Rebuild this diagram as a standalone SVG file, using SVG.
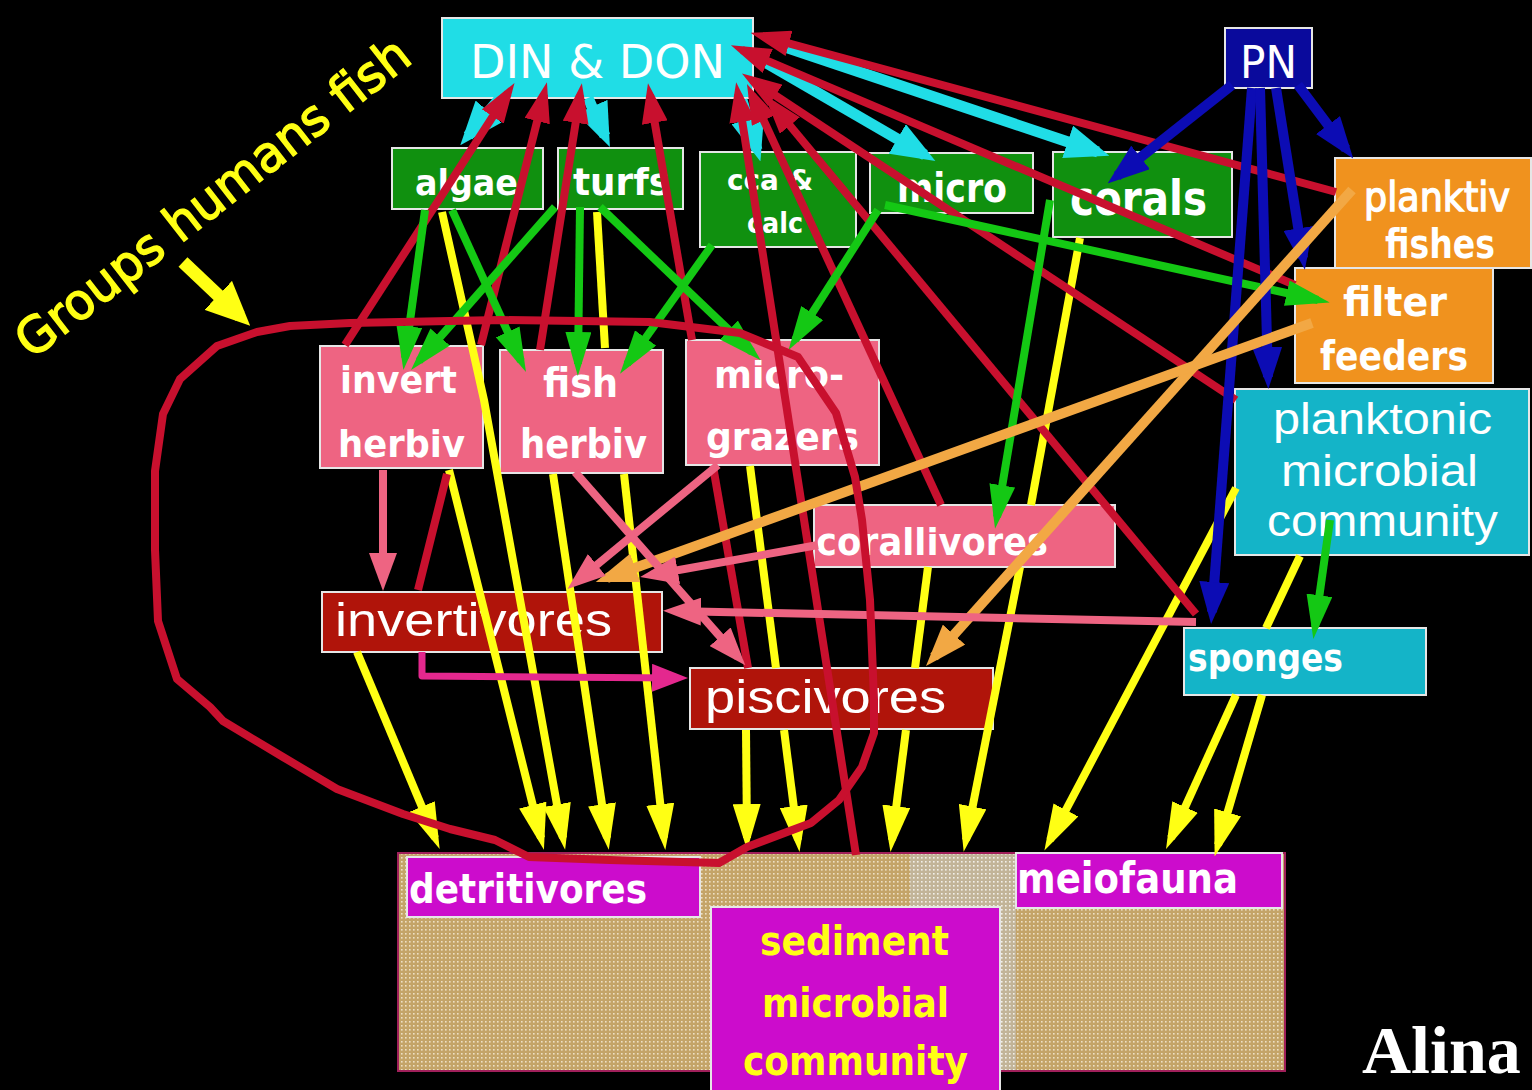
<svg xmlns="http://www.w3.org/2000/svg" width="1532" height="1090" viewBox="0 0 1532 1090">
<defs>
<style>
.box{stroke:#e6e6e6;stroke-width:2}
.t{font-family:"DejaVu Sans",sans-serif;font-weight:bold;fill:#ffffff}
.tn{font-family:"DejaVu Sans",sans-serif;fill:#ffffff}
.tb{font-family:"DejaVu Sans",sans-serif;fill:#ffffff;stroke:#ffffff;stroke-width:1.4}
.a{font-family:"Liberation Sans",Arial,sans-serif;fill:#ffffff}
.ln{fill:none;stroke-linejoin:round}
.y{stroke:#ffff14;stroke-width:8;marker-end:url(#hy)}
.y0{stroke:#ffff14;stroke-width:8}
.r{stroke:#c8102e;stroke-width:8;marker-end:url(#hr)}
.r0{stroke:#c8102e;stroke-width:8}
.g{stroke:#14c814;stroke-width:8;marker-end:url(#hg)}
.c{stroke:#20dde6;stroke-width:11;marker-end:url(#hc)}
.b{stroke:#0c0cb4;stroke-width:10;marker-end:url(#hb)}
.o{stroke:#f2a844;stroke-width:10;marker-end:url(#ho)}
.p{stroke:#ee6482;stroke-width:8;marker-end:url(#hp)}
.m{stroke:#e4288e;stroke-width:7;marker-end:url(#hm)}
</style>
<pattern id="dots" width="4" height="4" patternUnits="userSpaceOnUse"><rect width="4" height="4" fill="#c4a468"/><rect x="1" y="1" width="1.6" height="1.6" fill="#eee0c4"/></pattern>
<pattern id="dots2" width="4" height="4" patternUnits="userSpaceOnUse"><rect width="4" height="4" fill="#c2b498"/><rect x="1" y="1" width="1.6" height="1.6" fill="#f2f0ea"/></pattern>
<marker id="hy" viewBox="0 0 46 28" refX="34" refY="14" markerWidth="46" markerHeight="28" orient="auto" markerUnits="userSpaceOnUse"><path d="M0,0 L46,14 L0,28 z" fill="#ffff14"/></marker>
<marker id="hr" viewBox="0 0 40 26" refX="28" refY="13" markerWidth="40" markerHeight="26" orient="auto" markerUnits="userSpaceOnUse"><path d="M0,0 L40,13 L0,26 z" fill="#c8102e"/></marker>
<marker id="hg" viewBox="0 0 44 26" refX="32" refY="13" markerWidth="44" markerHeight="26" orient="auto" markerUnits="userSpaceOnUse"><path d="M0,0 L44,13 L0,26 z" fill="#14c814"/></marker>
<marker id="hc" viewBox="0 0 44 34" refX="32" refY="17" markerWidth="44" markerHeight="34" orient="auto" markerUnits="userSpaceOnUse"><path d="M0,0 L44,17 L0,34 z" fill="#20dde6"/></marker>
<marker id="hb" viewBox="0 0 42 30" refX="30" refY="15" markerWidth="42" markerHeight="30" orient="auto" markerUnits="userSpaceOnUse"><path d="M0,0 L42,15 L0,30 z" fill="#0c0cb4"/></marker>
<marker id="ho" viewBox="0 0 42 30" refX="30" refY="15" markerWidth="42" markerHeight="30" orient="auto" markerUnits="userSpaceOnUse"><path d="M0,0 L42,15 L0,30 z" fill="#f2a844"/></marker>
<marker id="hp" viewBox="0 0 38 28" refX="27" refY="14" markerWidth="38" markerHeight="28" orient="auto" markerUnits="userSpaceOnUse"><path d="M0,0 L38,14 L0,28 z" fill="#ee6482"/></marker>
<marker id="hm" viewBox="0 0 36 28" refX="26" refY="14" markerWidth="36" markerHeight="28" orient="auto" markerUnits="userSpaceOnUse"><path d="M0,0 L36,14 L0,28 z" fill="#e4288e"/></marker>
<marker id="hya" viewBox="0 0 44 40" refX="30" refY="20" markerWidth="44" markerHeight="40" orient="auto" markerUnits="userSpaceOnUse"><path d="M0,0 L44,20 L0,40 z" fill="#ffff14"/></marker>
</defs>
<rect width="1532" height="1090" fill="#000000"/>

<g id="sediment">
<rect x="398" y="853" width="887" height="218" fill="url(#dots)" stroke="#a0205a" stroke-width="2"/>
<rect x="910" y="854" width="106" height="216" fill="url(#dots2)"/>
</g>

<g id="nodes">
<g id="din-don"><rect class="box" x="442" y="18" width="311" height="80" fill="#20dde6"/><text class="tn" x="470" y="78" font-size="46" textLength="255" lengthAdjust="spacingAndGlyphs">DIN &amp; DON</text></g>
<g id="pn"><rect class="box" x="1225" y="28" width="87" height="60" fill="#0a0a9c"/><text class="tn" x="1240" y="78" font-size="44" textLength="57" lengthAdjust="spacingAndGlyphs">PN</text></g>
<g id="algae"><rect class="box" x="392" y="148" width="151" height="61" fill="#10900f"/><text class="t" x="415" y="195" font-size="36" textLength="103" lengthAdjust="spacingAndGlyphs">algae</text></g>
<g id="turfs"><rect class="box" x="558" y="148" width="125" height="61" fill="#10900f"/><text class="t" x="573" y="195" font-size="38" textLength="97" lengthAdjust="spacingAndGlyphs">turfs</text></g>
<g id="cca"><rect class="box" x="700" y="152" width="156" height="95" fill="#10900f"/><text class="t" x="727" y="190" font-size="28" textLength="86" lengthAdjust="spacingAndGlyphs">cca &amp;</text><text class="t" x="747" y="233" font-size="28" textLength="56" lengthAdjust="spacingAndGlyphs">calc</text></g>
<g id="micro"><rect class="box" x="870" y="153" width="163" height="60" fill="#10900f"/><text class="t" x="897" y="202" font-size="40" textLength="110" lengthAdjust="spacingAndGlyphs">micro</text></g>
<g id="corals"><rect class="box" x="1053" y="152" width="179" height="85" fill="#10900f"/><text class="t" x="1070" y="215" font-size="48" textLength="137" lengthAdjust="spacingAndGlyphs">corals</text></g>
<g id="planktiv-fishes"><rect class="box" x="1335" y="158" width="196" height="110" fill="#f0921e"/><text class="tb" x="1364" y="211" font-size="40" textLength="146" lengthAdjust="spacingAndGlyphs">planktiv</text><text class="t" x="1385" y="258" font-size="40" textLength="110" lengthAdjust="spacingAndGlyphs">fishes</text></g>
<g id="filter-feeders"><rect class="box" x="1295" y="268" width="198" height="115" fill="#f0921e"/><text class="t" x="1343" y="316" font-size="40" textLength="104" lengthAdjust="spacingAndGlyphs">filter</text><text class="t" x="1320" y="370" font-size="40" textLength="148" lengthAdjust="spacingAndGlyphs">feeders</text></g>
<g id="planktonic"><rect class="box" x="1235" y="389" width="294" height="166" fill="#14b4c8"/><text class="a" x="1273" y="434" font-size="44" textLength="219" lengthAdjust="spacingAndGlyphs">planktonic</text><text class="a" x="1281" y="486" font-size="44" textLength="197" lengthAdjust="spacingAndGlyphs">microbial</text><text class="a" x="1267" y="536" font-size="44" textLength="231" lengthAdjust="spacingAndGlyphs">community</text></g>
<g id="sponges"><rect class="box" x="1184" y="628" width="242" height="67" fill="#14b4c8"/><text class="t" x="1188" y="671" font-size="38" textLength="155" lengthAdjust="spacingAndGlyphs">sponges</text></g>
<g id="invert-herbiv"><rect class="box" x="320" y="346" width="163" height="122" fill="#ee6482"/><text class="t" x="340" y="393" font-size="38" textLength="117" lengthAdjust="spacingAndGlyphs">invert</text><text class="t" x="338" y="457" font-size="38" textLength="127" lengthAdjust="spacingAndGlyphs">herbiv</text></g>
<g id="fish-herbiv"><rect class="box" x="500" y="350" width="163" height="123" fill="#ee6482"/><text class="t" x="543" y="397" font-size="40" textLength="75" lengthAdjust="spacingAndGlyphs">fish</text><text class="t" x="520" y="458" font-size="40" textLength="127" lengthAdjust="spacingAndGlyphs">herbiv</text></g>
<g id="micro-grazers"><rect class="box" x="686" y="340" width="193" height="125" fill="#ee6482"/><text class="t" x="714" y="388" font-size="38" textLength="130" lengthAdjust="spacingAndGlyphs">micro-</text><text class="t" x="706" y="450" font-size="38" textLength="153" lengthAdjust="spacingAndGlyphs">grazers</text></g>
<g id="corallivores"><rect class="box" x="814" y="505" width="301" height="62" fill="#ee6482"/><text class="t" x="816" y="555" font-size="38" textLength="232" lengthAdjust="spacingAndGlyphs">corallivores</text></g>
<g id="invertivores"><rect class="box" x="322" y="592" width="340" height="60" fill="#b0140a"/><text class="a" x="335" y="636" font-size="46" textLength="277" lengthAdjust="spacingAndGlyphs">invertivores</text></g>
<g id="piscivores"><rect class="box" x="690" y="668" width="303" height="61" fill="#b0140a"/><text class="a" x="705" y="713" font-size="46" textLength="241" lengthAdjust="spacingAndGlyphs">piscivores</text></g>
<g id="detritivores"><rect class="box" x="407" y="857" width="293" height="60" fill="#cc0ccc"/><text class="t" x="409" y="903" font-size="40" textLength="238" lengthAdjust="spacingAndGlyphs">detritivores</text></g>
<g id="meiofauna"><rect class="box" x="1016" y="853" width="266" height="55" fill="#cc0ccc"/><text class="t" x="1017" y="893" font-size="42" textLength="221" lengthAdjust="spacingAndGlyphs">meiofauna</text></g>
<g id="sediment-microbial"><rect class="box" x="711" y="907" width="289" height="190" fill="#cc0ccc"/><text class="t" x="760" y="955" font-size="40" textLength="189" lengthAdjust="spacingAndGlyphs" style="fill:#ffff14">sediment</text><text class="t" x="762" y="1017" font-size="40" textLength="187" lengthAdjust="spacingAndGlyphs" style="fill:#ffff14">microbial</text><text class="t" x="743" y="1075" font-size="40" textLength="225" lengthAdjust="spacingAndGlyphs" style="fill:#ffff14">community</text></g>
</g>

<g id="connectors" class="ln">
<path class="y" d="M357,652 L435,838"/>
<path class="y" d="M449,470 L541,838"/>
<path class="y" d="M442,212 L484,400 L563,838"/>
<path class="y" d="M553,474 L607,838"/>
<path class="y0" d="M597,212 L605,348"/>
<path class="y" d="M624,474 L664,838"/>
<path class="y" d="M746,730 L747,838"/>
<path class="y0" d="M750,466 L776,668"/>
<path class="y" d="M784,730 L798,840"/>
<path class="y0" d="M928,567 L915,668"/>
<path class="y" d="M906,730 L892,840"/>
<path class="y0" d="M1080,238 L1031,505"/>
<path class="y" d="M1020,567 L966,840"/>
<path class="y" d="M1236,488 L1050,840"/>
<path class="y0" d="M1300,556 L1266,628"/>
<path class="y" d="M1236,695 L1171,838"/>
<path class="y" d="M1262,695 L1218,845"/>
<path class="c" d="M500,98 L468,136"/>
<path class="c" d="M588,98 L605,136"/>
<path class="c" d="M742,100 L757,150"/>
<path class="c" d="M758,58 L925,155"/>
<path class="c" d="M782,46 L1098,152"/>
<path class="r" d="M345,345 L508,93"/>
<path class="r0" d="M418,590 L447,474"/>
<path class="r" d="M481,345 L544,94"/>
<path class="r" d="M540,350 L580,95"/>
<path class="r0" d="M748,668 L713,466"/>
<path class="r" d="M692,340 L650,95"/>
<path class="r" d="M856,855 L738,94"/>
<path class="r" d="M1336,192 L762,36"/>
<path class="r" d="M1295,285 L742,50"/>
<path class="r" d="M1236,400 L752,80"/>
<path class="r" d="M1196,614 L772,104"/>
<path class="r" d="M941,505 L752,95"/>
<path class="g" d="M425,210 L405,358"/>
<path class="g" d="M555,207 L419,361"/>
<path class="g" d="M452,210 L521,361"/>
<path class="g" d="M580,207 L578,364"/>
<path class="g" d="M712,245 L627,364"/>
<path class="g" d="M600,207 L752,352"/>
<path class="g" d="M878,210 L795,340"/>
<path class="g" d="M885,205 L1318,300"/>
<path class="g" d="M1050,200 L997,517"/>
<path class="g" d="M1330,520 L1315,627"/>
<path class="b" d="M1232,85 L1117,176"/>
<path class="b" d="M1252,88 L1212,612"/>
<path class="b" d="M1260,88 L1268,377"/>
<path class="b" d="M1276,88 L1303,258"/>
<path class="b" d="M1298,85 L1346,149"/>
<path class="o" d="M1352,190 L934,657"/>
<path class="o" d="M1312,323 L607,578"/>
<path class="p" d="M383,470 L383,580"/>
<path class="p" d="M575,472 L738,657"/>
<path class="p" d="M718,465 L576,582"/>
<path class="p" d="M818,545 L651,575"/>
<path class="p" d="M1196,622 L674,611"/>
<path class="m" d="M422,652 L422,676 L678,678"/>
<path class="r0" d="M257,332 L217,346 L180,379 L163,414 L155,471 L155,550 L158,621 L177,679 L210,707 L223,721 L283,757 L337,789 L403,814 L450,829 L495,840 L529,857 L610,860 L719,863 L747,847 L811,823 L839,800 L862,767 L874,733 L874,700 L870,600 L862,520 L855,477 L836,413 L798,357 L740,333 L650,322 L500,320 L350,323 L290,326 Z"/>
</g>

<g id="annotation">
<path d="M183,262 L240,316" fill="none" stroke="#ffff14" stroke-width="13" marker-end="url(#hya)"/>
<text class="tb" transform="translate(32,360) rotate(-38)" x="0" y="0" font-size="50" textLength="485" lengthAdjust="spacingAndGlyphs" style="fill:#ffff14;stroke:#ffff14">Groups humans fish</text>
</g>

<text x="1362" y="1073" font-family="Liberation Serif, Times New Roman, serif" font-weight="bold" font-size="68" fill="#ffffff">Alina</text>
</svg>
